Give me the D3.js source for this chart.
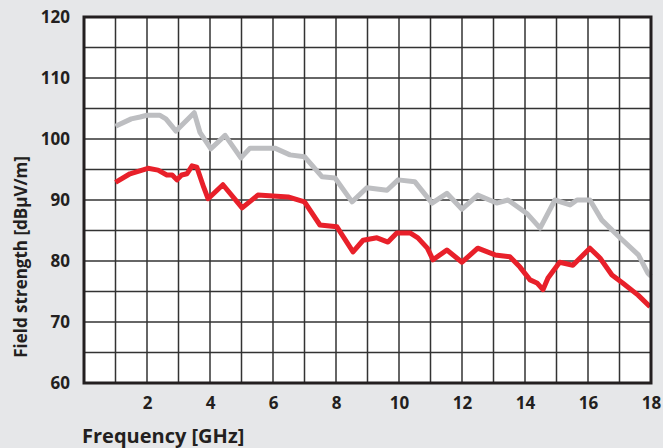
<!DOCTYPE html>
<html>
<head>
<meta charset="utf-8">
<script src="https://cdn.jsdelivr.net/npm/d3@7"></script>
<style>
  body { margin: 0; background: #e6e7e9; }
  text { font-family: "Open Sans", "Noto Sans", sans-serif; font-weight: 700; fill: #231f20; }
</style>
</head>
<body>
<script>
// frequency [GHz] / field strength [dBµV/m]
var grayFreq = [1.0, 1.5, 1.78, 2.0, 2.4, 2.6, 2.92, 3.5, 3.68, 4.03, 4.48, 4.98, 5.27, 6.06, 6.54, 7.0, 7.56, 7.97, 8.51, 8.98, 9.62, 9.97, 10.5, 11.05, 11.52, 12.0, 12.5, 13.1, 13.46, 14.06, 14.48, 14.95, 15.43, 15.65, 16.06, 16.44, 17.0, 17.6, 17.9, 18.0];
var grayVals = [102.1, 103.3, 103.6, 103.9, 103.9, 103.3, 101.3, 104.3, 101.1, 98.4, 100.6, 96.9, 98.5, 98.5, 97.4, 97.1, 93.8, 93.6, 89.7, 92.0, 91.6, 93.3, 93.0, 89.5, 91.1, 88.5, 90.8, 89.5, 90.0, 87.8, 85.4, 90.0, 89.2, 90.0, 90.0, 86.7, 83.9, 81.0, 78.0, 77.5];

var redFreq = [1.0, 1.46, 2.03, 2.35, 2.63, 2.8, 2.95, 3.1, 3.27, 3.43, 3.58, 3.8, 3.94, 4.41, 5.02, 5.52, 6.48, 7.0, 7.49, 8.03, 8.54, 8.86, 9.3, 9.65, 9.93, 10.35, 10.6, 10.9, 11.08, 11.52, 12.0, 12.5, 13.05, 13.52, 13.84, 14.16, 14.38, 14.57, 14.73, 15.1, 15.52, 16.06, 16.38, 16.76, 17.1, 17.59, 17.97];
var redVals = [92.9, 94.3, 95.2, 94.9, 94.1, 94.1, 93.3, 94.1, 94.3, 95.6, 95.4, 92.1, 90.2, 92.5, 88.7, 90.8, 90.5, 89.7, 85.9, 85.6, 81.5, 83.4, 83.8, 83.1, 84.6, 84.6, 83.8, 82.1, 80.2, 81.8, 79.8, 82.1, 81.0, 80.7, 79.0, 76.9, 76.4, 75.3, 77.2, 79.8, 79.3, 82.1, 80.5, 77.7, 76.4, 74.4, 72.5];

var xTicks = [2, 4, 6, 8, 10, 12, 14, 16, 18];
var yTicks = [60, 70, 80, 90, 100, 110, 120];

var W = 663, H = 448;
var margin = {top: 17, right: 12, bottom: 65, left: 84};
var width = W - margin.left - margin.right,
    height = H - margin.top - margin.bottom;

var svg = d3.select("body").append("svg")
  .attr("width", W)
  .attr("height", H);

var g = svg.append("g")
  .attr("transform", "translate(" + margin.left + "," + margin.top + ")");

var x = d3.scaleLinear().domain([0, 18]).range([0, width]);
var y = d3.scaleLinear().domain([60, 120]).range([height, 0]);

g.append("rect")
  .attr("width", width)
  .attr("height", height)
  .style("fill", "white");

// grid, every 1 GHz and every 5 dB
g.append("g")
  .selectAll("line")
  .data(d3.range(1, 18))
  .enter().append("line")
  .attr("x1", function(d) { return x(d); })
  .attr("x2", function(d) { return x(d); })
  .attr("y1", 0)
  .attr("y2", height)
  .style("stroke", "#333")
  .style("stroke-width", 1.5);

g.append("g")
  .selectAll("line")
  .data(d3.range(65, 120, 5))
  .enter().append("line")
  .attr("x1", 0)
  .attr("x2", width)
  .attr("y1", function(d) { return y(d); })
  .attr("y2", function(d) { return y(d); })
  .style("stroke", "#333")
  .style("stroke-width", 1.5);

var line = d3.line()
  .x(function(d) { return x(d[0]); })
  .y(function(d) { return y(d[1]); });

g.append("path")
  .datum(d3.zip(grayFreq, grayVals))
  .attr("d", line)
  .style("fill", "none")
  .style("stroke", "#bdbec1")
  .style("stroke-width", 5)
  .style("stroke-linejoin", "round");

g.append("path")
  .datum(d3.zip(redFreq, redVals))
  .attr("d", line)
  .style("fill", "none")
  .style("stroke", "#e8202a")
  .style("stroke-width", 5)
  .style("stroke-linejoin", "round");

// frame
g.append("rect")
  .attr("width", width)
  .attr("height", height)
  .style("fill", "none")
  .style("stroke", "#231f20")
  .style("stroke-width", 3);

var xAxis = d3.axisBottom(x).tickValues(xTicks).tickSize(0).tickPadding(14);
var yAxis = d3.axisLeft(y).tickValues(yTicks).tickSize(0).tickPadding(14);

g.append("g")
  .attr("transform", "translate(0," + height + ")")
  .call(xAxis)
  .call(function(s) { s.select(".domain").remove(); })
  .selectAll("text")
  .style("font-size", "17px");

g.append("g")
  .call(yAxis)
  .call(function(s) { s.select(".domain").remove(); })
  .selectAll("text")
  .style("font-size", "17px");

svg.append("text")
  .attr("x", 82)
  .attr("y", 443)
  .style("font-size", "20px")
  .text("Frequency [GHz]");

svg.append("text")
  .attr("transform", "translate(27," + 257 + ") rotate(-90)")
  .style("text-anchor", "middle")
  .style("font-size", "17px")
  .text("Field strength [dBµV/m]");
</script>
</body>
</html>
